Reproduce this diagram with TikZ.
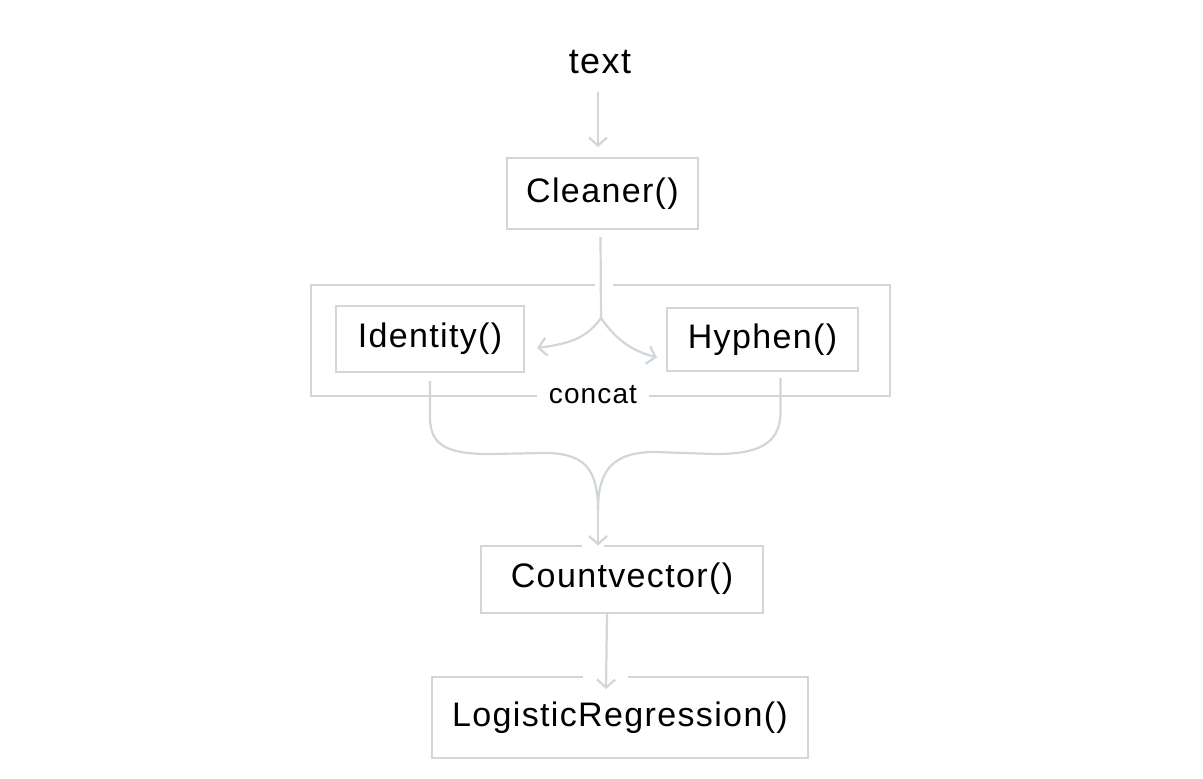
\documentclass[tikz,border=0pt]{standalone}
\usepackage{fontspec}
\setmainfont{Liberation Sans}[LetterSpace=4]
\usetikzlibrary{arrows.meta}
\definecolor{edgec}{HTML}{D0D6DA}
\tikzset{
  box/.style={draw=edgec, line width=2pt, inner sep=0pt, text=black,
              font=\fontsize{34}{40}\selectfont},
  ln/.style={draw=edgec, line width=2.2pt},
  arr/.style={ln, -{Straight Barb[length=8pt,width=18pt,line width=2.2pt]}},
  gapst/.style={draw=white, line width=5pt},
  lbl/.style={text=black, inner sep=0pt}
}
\begin{document}
\begin{tikzpicture}[x=1pt,y=-1pt]
\useasboundingbox (0,0) rectangle (1203,779);
% nodes
\node[lbl, font=\fontsize{36}{42}\selectfont] (txt) at (600,62) {text};
\node[box, minimum width=191pt, minimum height=71pt] (cleaner) at (602.5,193.5) {Cleaner()};
\node[draw=edgec, line width=2pt, minimum width=579pt, minimum height=111pt, inner sep=0pt] (concatbox) at (600.5,340.5) {};
\node[box, minimum width=188pt, minimum height=66pt] (identity) at (430,339) {Identity()};
\node[box, minimum width=191pt, minimum height=63pt] (hyphen) at (762.5,339.5) {Hyphen()};
\node[lbl, fill=white, inner xsep=12pt, inner ysep=4pt, font=\fontsize{28}{34}\selectfont] (concat) at (593,395) {concat};
\node[box, minimum width=282pt, minimum height=67pt] (countv) at (622,579) {Countvector()};
\node[box, minimum width=376pt, minimum height=81pt] (logreg) at (620,717.5) {LogisticRegression()};
% coordinates
\coordinate (split) at (601,318);
\coordinate (merge) at (598,510);
% gaps in box edges
\draw[gapst] ([xshift=-6pt]split |- concatbox.north) -- ([xshift=12pt]split |- concatbox.north);
\draw[gapst] ([xshift=-16pt]merge |- countv.north) -- ([xshift=6pt]merge |- countv.north);
\draw[gapst] ([xshift=-37pt]logreg.north) -- ([xshift=8pt]logreg.north);
% connectors
\draw[arr] ([xshift=-2pt,yshift=-18pt]txt.south) -- ([xshift=-4.5pt,yshift=10pt]cleaner.north);
\draw[ln] ([xshift=-2pt,yshift=-7pt]cleaner.south) -- (split);
\draw[arr] (split) to[out=-125, in=8] ([xshift=12pt,yshift=-9pt]identity.east);
\draw[arr] (split) to[out=-55, in=165] ([xshift=-9pt,yshift=-18pt]hyphen.west);
\draw[ln] ([yshift=-8pt]identity.south) -- (430,418)
  .. controls (430,448) and (452,454) .. (490,454) -- (545,453)
  .. controls (585,453) and (598,470) .. (merge);
\draw[ln] ([xshift=18pt,yshift=-6pt]hyphen.south) -- (780.5,412)
  .. controls (780.5,446) and (755,454) .. (715,454) -- (655,452)
  .. controls (613,452) and (598,470) .. (merge);
\draw[arr] (merge) -- ([yshift=-1pt]merge |- countv.north);
\draw[arr] ([xshift=-15pt]countv.south) -- ([xshift=-14pt,yshift=-13pt]logreg.north);
\end{tikzpicture}
\end{document}
